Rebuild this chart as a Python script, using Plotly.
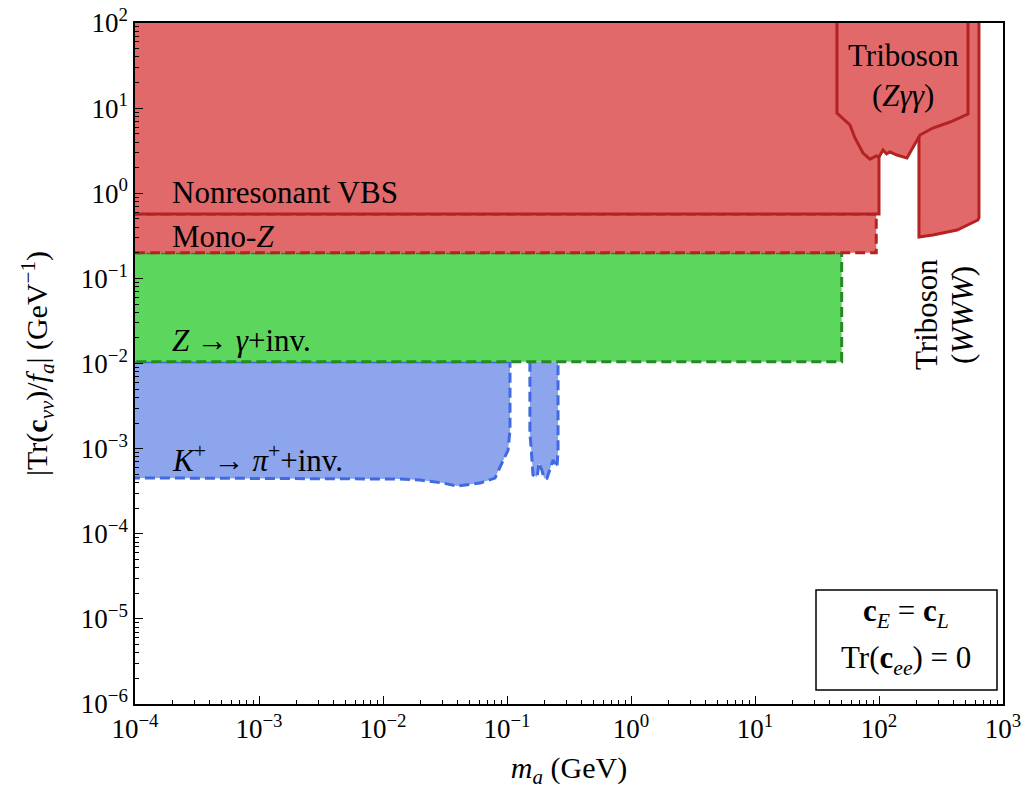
import plotly.graph_objects as go

# ---------------- data (region boundaries) ----------------
# Nonresonant VBS (solid edge)
vbs_x = [1e-5, 100, 100, 1e-5]
vbs_y = [1e3, 1e3, 0.57, 0.57]

# Mono-Z (dashed edge)
monoz_x = [1e-5, 95, 95, 1e-5]
monoz_y = [0.57, 0.57, 0.2, 0.2]

# Z -> gamma + inv (dashed edge)
zg_x = [1e-5, 50, 50, 1e-5]
zg_y = [0.2, 0.2, 0.0105, 0.0105]

# K+ -> pi+ + inv, low-mass window
k1_x = [1e-5, 0.1057, 0.1057, 0.102, 0.0879, 0.080, 0.0605, 0.0395, 0.0305, 0.0199, 0.0137, 1e-4, 1e-5]
k1_y = [0.0105, 0.0105, 1.66e-3, 9.6e-4, 6.08e-4, 4.5e-4, 3.94e-4, 3.64e-4, 3.94e-4, 4.27e-4, 4.39e-4, 4.6e-4, 4.6e-4]

# K+ -> pi+ + inv, second window
k2_x = [0.153, 0.153, 0.157, 0.162, 0.175, 0.181, 0.191, 0.199, 0.21, 0.222, 0.235, 0.253, 0.258, 0.258]
k2_y = [0.0105, 1.52e-3, 9.6e-4, 4.9e-4, 4.64e-4, 6.78e-4, 5.61e-4, 4.5e-4, 4.5e-4, 5.61e-4, 7.35e-4, 6.08e-4, 9.6e-4, 0.0105]

# Triboson (WWW)
www_x = [210, 210, 272, 426, 628, 640, 640]
www_y = [1e3, 0.306, 0.323, 0.37, 0.485, 0.52, 1e3]

# Triboson (Z gamma gamma)
zaa_x = [45.8, 45.8, 58.3, 64, 74.3, 84.6, 95, 100, 107.7, 115, 122.7, 139.7, 168, 195, 214, 272, 374, 522, 522]
zaa_y = [1e3, 8.77, 6.34, 4.46, 2.97, 2.52, 2.75, 2.67, 3.22, 2.9, 3.05, 2.81, 2.59, 3.89, 4.83, 5.84, 6.87, 8.53, 1e3]

x_tick_vals = [1e-4, 1e-3, 1e-2, 1e-1, 1, 10, 100, 1000]
x_tick_text = ["10<sup>−4</sup>", "10<sup>−3</sup>", "10<sup>−2</sup>", "10<sup>−1</sup>",
               "10<sup>0</sup>", "10<sup>1</sup>", "10<sup>2</sup>", "10<sup>3</sup>"]
y_tick_vals = [1e-6, 1e-5, 1e-4, 1e-3, 1e-2, 1e-1, 1, 10, 100]
y_tick_text = ["10<sup>−6</sup>", "10<sup>−5</sup>", "10<sup>−4</sup>", "10<sup>−3</sup>",
               "10<sup>−2</sup>", "10<sup>−1</sup>", "10<sup>0</sup>", "10<sup>1</sup>", "10<sup>2</sup>"]

# ---------------- styles ----------------
RED_FILL = "rgb(225,105,105)"
RED_EDGE = "rgb(180,34,34)"
GREEN_FILL = "rgb(92,214,92)"
GREEN_EDGE = "rgb(34,139,34)"
BLUE_FILL = "rgb(140,165,236)"
BLUE_EDGE = "rgb(65,105,225)"
FONT = "Liberation Serif"

fig = go.Figure()


def region(x, y, fill, edge, dash="solid", width=3):
    fig.add_trace(go.Scatter(
        x=x, y=y, mode="lines", fill="toself", fillcolor=fill,
        line=dict(color=edge, width=width, dash=dash),
        hoverinfo="skip", showlegend=False))


region(k1_x, k1_y, BLUE_FILL, BLUE_EDGE, dash="10px,5px")
region(k2_x, k2_y, BLUE_FILL, BLUE_EDGE, dash="10px,5px")
region(zg_x, zg_y, GREEN_FILL, GREEN_EDGE, dash="10px,5px")
region(monoz_x, monoz_y, RED_FILL, RED_EDGE, dash="10px,5px")
region(vbs_x, vbs_y, RED_FILL, RED_EDGE)
region(www_x, www_y, RED_FILL, RED_EDGE)
region(zaa_x, zaa_y, RED_FILL, RED_EDGE)

axis_common = dict(
    type="log", showgrid=False, zeroline=False, automargin=False,
    showline=True, linecolor="black", linewidth=1.5, mirror=True,
    ticks="inside", ticklen=8, tickwidth=1.2, tickcolor="black",
    tickfont=dict(family=FONT, size=27, color="black"),
    minor=dict(ticks="inside", ticklen=4, tickwidth=1, tickcolor="black",
               dtick="D1", showgrid=False),
)

fig.update_xaxes(**axis_common, range=[-4, 3], tickmode="array",
                 tickvals=x_tick_vals, ticktext=x_tick_text,
                 title=dict(text="<i>m<sub>a</sub></i> (GeV)",
                            font=dict(family=FONT, size=30, color="black"), standoff=14))
fig.update_yaxes(**axis_common, range=[-6, 2], tickmode="array",
                 tickvals=y_tick_vals, ticktext=y_tick_text,
                 title=dict(text="|Tr(<b>c</b><sub><i>νν</i></sub>)/<i>f<sub>a</sub></i>| (GeV<sup>−1</sup>)",
                            font=dict(family=FONT, size=30, color="black"), standoff=24))

lab_font = dict(family=FONT, size=31, color="black")


def label(x, y, text, **kw):
    fig.add_annotation(x=x, y=y, xref="paper", yref="paper", text=text, showarrow=False,
                       font=lab_font, **kw)


W, H = 868.0, 681.0  # plot area size in px


def px(xp, yp):
    return (xp - 135) / W, 1 - (yp - 23) / H


label(*px(170, 193), "Nonresonant VBS", xanchor="left", yanchor="middle")
label(*px(170, 236), "Mono-<i>Z</i>", xanchor="left", yanchor="middle")
label(*px(170, 340), "<i>Z</i> → <i>γ</i>+inv.", xanchor="left", yanchor="middle")
label(*px(170, 458), "<i>K</i><sup>+</sup> → <i>π</i><sup>+</sup>+inv.", xanchor="left", yanchor="middle")
label(*px(903, 55), "Triboson", xanchor="center", yanchor="middle")
label(*px(903, 95), "(<i>Zγγ</i>)", xanchor="center", yanchor="middle")
label(*px(926, 315), "Triboson", xanchor="center", yanchor="middle", textangle=-90)
label(*px(962, 315), "(<i>WWW</i>)", xanchor="center", yanchor="middle", textangle=-90)

# Box with assumptions
x0, y0 = px(816, 690)
x1, y1 = px(997, 590)
fig.add_shape(type="rect", xref="paper", yref="paper", x0=x0, y0=y0, x1=x1, y1=y1,
              line=dict(color="black", width=1.5), fillcolor="white")
label(*px(906, 613), "<b>c</b><sub><i>E</i></sub> = <b>c</b><sub><i>L</i></sub>", xanchor="center", yanchor="middle")
label(*px(906, 660), "Tr(<b>c</b><sub><i>ee</i></sub>) = 0", xanchor="center", yanchor="middle")

fig.update_layout(
    width=1030, height=792,
    margin=dict(l=135, r=27, t=23, b=88),
    plot_bgcolor="white", paper_bgcolor="white",
    font=dict(family=FONT, color="black"),
    showlegend=False,
)

fig.write_html("out.html")
